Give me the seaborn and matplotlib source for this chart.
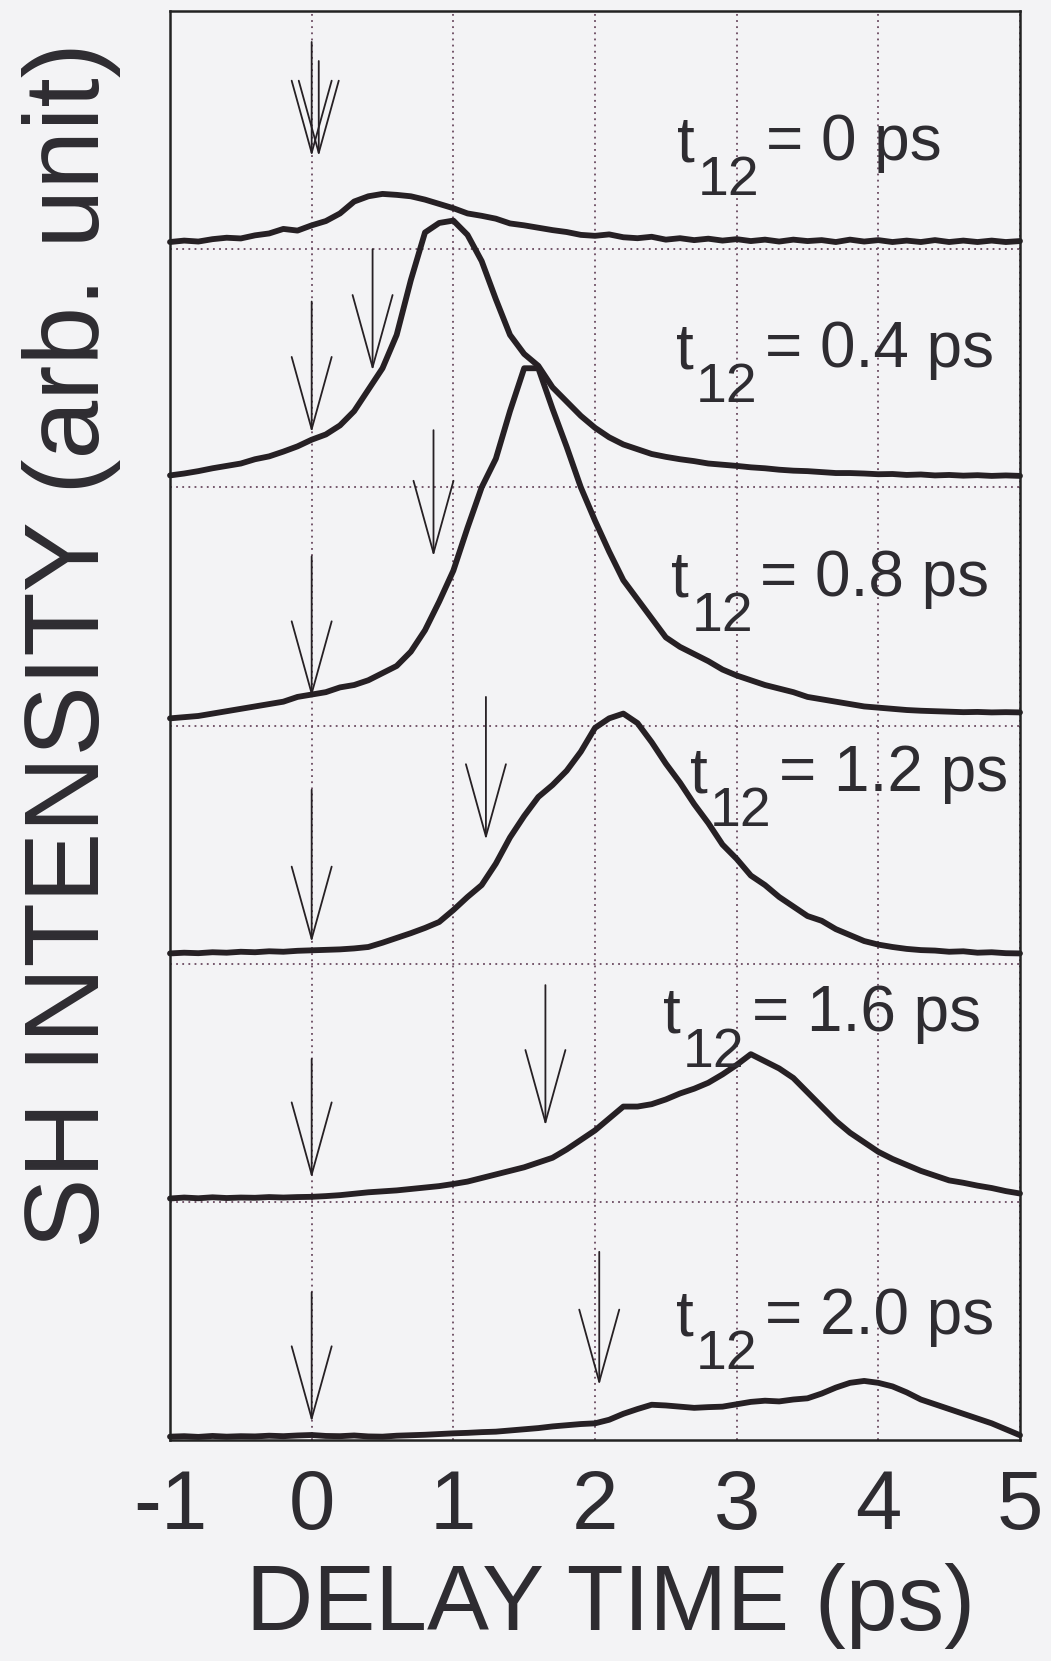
import numpy as np
import pandas as pd
import matplotlib
matplotlib.use("Agg")
import matplotlib.pyplot as plt
import seaborn as sns

# ---------------- data ----------------
delay_ps = np.linspace(-1.0, 5.0, 61)          # 0.1 ps sampling
t12_labels = ["0", "0.4", "0.8", "1.2", "1.6", "2.0"]
panel_offset = [5, 4, 3, 2, 1, 0]

sig_t00 = [.030, .036, .032, .042, .048, .045, .058, .066, .085, .078,
           .100, .118, .150, .200, .222, .232, .228, .222, .208, .190,
           .172, .150, .140, .128, .108, .100, .090, .080, .072, .060,
           .056, .062, .050, .046, .052, .040, .046, .038, .044, .036,
           .042, .034, .040, .032, .040, .034, .038, .030, .040, .032,
           .038, .030, .036, .030, .038, .030, .036, .030, .036, .030,
           .034]
sig_t04 = [.050, .058, .068, .080, .090, .100, .118, .130, .150, .172,
           .200, .222, .260, .320, .410, .500, .640, .870, 1.070, 1.110,
           1.120, 1.060, .950, .790, .640, .560, .510, .420, .360, .300,
           .250, .210, .180, .160, .140, .128, .118, .110, .100, .095,
           .090, .084, .080, .074, .070, .068, .064, .060, .060, .058,
           .055, .056, .052, .054, .050, .052, .049, .051, .048, .050,
           .048]
sig_t08 = [.030, .035, .040, .050, .060, .070, .080, .090, .100, .120,
           .130, .140, .160, .170, .190, .220, .250, .310, .400, .520,
           .650, .830, 1.000, 1.120, 1.320, 1.500, 1.500, 1.330, 1.170, 1.000,
           .860, .730, .610, .530, .450, .370, .330, .300, .270, .235,
           .210, .190, .170, .155, .140, .120, .110, .100, .090, .080,
           .075, .070, .065, .062, .060, .058, .056, .057, .055, .056,
           .055]
sig_t12 = [.043, .046, .044, .048, .046, .050, .048, .052, .050, .054,
           .056, .058, .060, .064, .070, .088, .108, .128, .150, .175,
           .225, .280, .330, .420, .530, .620, .700, .750, .810, .890,
           .990, 1.030, 1.050, 1.010, .930, .840, .760, .670, .590, .500,
           .440, .370, .330, .280, .240, .200, .180, .145, .120, .095,
           .080, .070, .062, .057, .055, .050, .052, .046, .048, .044,
           .043]
sig_t16 = [.014, .018, .015, .019, .016, .018, .017, .020, .018, .020,
           .021, .024, .028, .034, .040, .044, .048, .054, .060, .066,
           .075, .085, .100, .115, .130, .145, .165, .185, .220, .260,
           .300, .350, .400, .400, .410, .430, .455, .475, .500, .535,
           .575, .620, .590, .560, .520, .460, .400, .340, .290, .250,
           .210, .180, .155, .130, .110, .090, .080, .068, .058, .045,
           .035]
sig_t20 = [.014, .016, .013, .017, .014, .016, .015, .018, .016, .019,
           .021, .017, .016, .019, .015, .014, .018, .020, .022, .025,
           .028, .030, .033, .035, .040, .045, .050, .057, .062, .067,
           .070, .085, .110, .130, .148, .145, .140, .135, .138, .140,
           .150, .160, .165, .162, .170, .175, .195, .220, .240, .248,
           .240, .225, .200, .170, .150, .130, .110, .090, .070, .045,
           .020]
signals = [sig_t00, sig_t04, sig_t08, sig_t12, sig_t16, sig_t20]

# arrows: (x position, top, tip) relative to each panel's baseline
arrows_zero = [[(0.0, 0.87, 0.39), (0.05, 0.79, 0.39)],
               [(0.0, 0.78, 0.23)],
               [(0.0, 0.71, 0.12)],
               [(0.0, 0.73, 0.09)],
               [(0.0, 0.60, 0.10)],
               [(0.0, 0.62, 0.076)]]
arrows_t12 = [[],
              [(0.43, 1.00, 0.49)],
              [(0.86, 1.24, 0.71)],
              [(1.23, 1.12, 0.52)],
              [(1.65, 0.91, 0.32)],
              [(2.03, 0.79, 0.23)]]

xtick_vals = [-1, 0, 1, 2, 3, 4, 5]
xtick_text = ["-1", "0", "1", "2", "3", "4", "5"]

# ---------------- build long table ----------------
rows = []
for lab, off, sig in zip(t12_labels, panel_offset, signals):
    for d, s in zip(delay_ps, sig):
        rows.append({"t12": lab, "delay": d, "shifted": s + off})
df = pd.DataFrame(rows)

# ---------------- style ----------------
sns.set_theme(style="white")
plt.rcParams["font.family"] = ["Liberation Sans", "DejaVu Sans"]
plt.rcParams["axes.unicode_minus"] = False

ink = "#262024"
txt = "#2e2c31"
bg = "#f3f3f5"

fig = plt.figure(figsize=(10.51, 16.61), dpi=100, facecolor=bg)
ax = fig.add_axes([170 / 1051, 1 - 1440 / 1661, 850 / 1051, 1429 / 1661])
ax.set_facecolor(bg)

sns.lineplot(data=df, x="delay", y="shifted", units="t12", estimator=None,
             color=ink, lw=4.2, sort=False, legend=False, ax=ax,
             solid_capstyle="round", solid_joinstyle="round")
for ln in ax.lines:
    ln.set_clip_on(False)

ax.set_xlim(-1, 5)
ax.set_ylim(0, 6)
ax.set_xticks(xtick_vals)
ax.set_xticklabels(xtick_text)
ax.set_yticks([1, 2, 3, 4, 5])
ax.set_yticklabels([])
ax.grid(True, linestyle=(0, (1, 2.4)), lw=1.3, color="#6a4a60")
ax.tick_params(axis="x", length=0, pad=20, labelsize=60, labelcolor=txt)
ax.tick_params(axis="y", length=0)
for sp in ax.spines.values():
    sp.set_linewidth(1.8)
    sp.set_color("#222")
    sp.set_visible(True)

# arrows
for off, zlist, tlist in zip(panel_offset, arrows_zero, arrows_t12):
    for (xa, top, tip) in zlist + tlist:
        ax.annotate("", xy=(xa, off + tip), xytext=(xa, off + top),
                    arrowprops=dict(arrowstyle="->,head_length=2.6,head_width=0.72",
                                    lw=1.3, color=ink, shrinkA=0, shrinkB=0,
                                    mutation_scale=20))

# labels  t_12 = ... ps
label_pos = [(2.58, 5.37), (2.57, 4.50), (2.54, 3.54), (2.67, 2.72), (2.48, 1.71), (2.57, 0.44)]
for lab, (tx, ty) in zip(t12_labels, label_pos):
    ax.text(tx, ty, "t", fontsize=46, color=txt, ha="left", va="baseline")
    ax.annotate("12", xy=(tx, ty), xytext=(14.5, -24.5), textcoords="offset points",
                fontsize=40, color=txt, ha="left", va="baseline")
    ax.annotate(f"= {lab} ps", xy=(tx, ty), xytext=(64, 1), textcoords="offset points",
                fontsize=46, color=txt, ha="left", va="baseline")

ax.set_xlabel("DELAY TIME (ps)", fontsize=67, color=txt)
ax.xaxis.set_label_coords(0.518, -0.086)
ax.set_ylabel("SH INTENSITY (arb. unit)", fontsize=76, color=txt)
ax.yaxis.set_label_coords(-0.058, 0.556)

fig.savefig("out.png", dpi=100, facecolor=bg)
